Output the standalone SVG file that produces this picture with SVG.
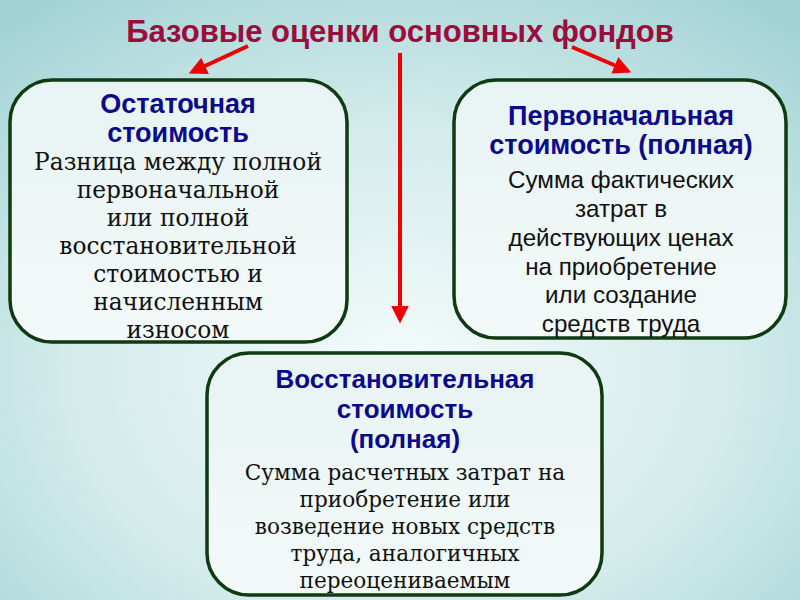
<svg xmlns="http://www.w3.org/2000/svg" width="800" height="600" viewBox="0 0 800 600">
<defs>
<radialGradient id="bg" cx="0.5" cy="0.62" r="0.75">
<stop offset="0" stop-color="#f4fbfb"/>
<stop offset="0.55" stop-color="#d3ebeb"/>
<stop offset="1" stop-color="#a4d3d6"/>
</radialGradient>
<linearGradient id="boxfill" x1="0" y1="0" x2="0" y2="1">
<stop offset="0" stop-color="#e8f3f3"/>
<stop offset="1" stop-color="#f3f9f9"/>
</linearGradient>
<marker id="ah" viewBox="0 0 10 10" refX="8" refY="5" markerWidth="4.5" markerHeight="4.5" orient="auto" markerUnits="strokeWidth">
<path d="M0,0 L10,5 L0,10 z" fill="#ee0000"/>
</marker>
</defs>
<style>
.box{fill:url(#boxfill);stroke:#0f3a12;stroke-width:3.5}
.head{font-family:"Liberation Sans",Arial,sans-serif;font-weight:bold;fill:#0a0a8a;text-anchor:middle;font-size:27px}
.head2{font-family:"Liberation Sans",Arial,sans-serif;font-weight:bold;fill:#0a0a8a;text-anchor:middle;font-size:26px}
.serif{font-family:"DejaVu Serif","Liberation Serif",serif;fill:#111;text-anchor:middle;font-size:23.3px}
.serif2{font-family:"DejaVu Serif","Liberation Serif",serif;fill:#111;text-anchor:middle;font-size:21.6px}
.sans{font-family:"Liberation Sans",Arial,sans-serif;fill:#111;text-anchor:middle;font-size:24.2px}
.title{font-family:"Liberation Sans",Arial,sans-serif;font-weight:bold;fill:#9b0d3c;text-anchor:middle;font-size:31px}
.arr{stroke:#ee0000;stroke-width:4;fill:none;marker-end:url(#ah)}
</style>
<rect width="800" height="600" fill="url(#bg)"/>
<text class="title" x="400" y="42">Базовые оценки основных фондов</text>
<g id="connectors">
<line class="arr" x1="248" y1="46" x2="192" y2="72"/>
<line class="arr" x1="572" y1="47" x2="628" y2="71"/>
<line class="arr" x1="400" y1="53" x2="400" y2="320"/>
</g>
<g id="residual">
<rect class="box" x="10" y="80" width="337" height="262" rx="42" ry="42"/>
<text class="head" x="178" y="113">Остаточная</text>
<text class="head" x="178" y="142">стоимость</text>
<text class="serif" x="178" y="170">Разница между полной</text>
<text class="serif" x="178" y="198">первоначальной</text>
<text class="serif" x="178" y="226">или полной</text>
<text class="serif" x="178" y="254">восстановительной</text>
<text class="serif" x="178" y="282">стоимостью и</text>
<text class="serif" x="178" y="310">начисленным</text>
<text class="serif" x="178" y="338">износом</text>
</g>
<g id="initial">
<rect class="box" x="454" y="80" width="332" height="258" rx="42" ry="42"/>
<text class="head" x="621" y="125">Первоначальная</text>
<text class="head" x="621" y="154">стоимость (полная)</text>
<text class="sans" x="621" y="188">Сумма фактических</text>
<text class="sans" x="621" y="217">затрат в</text>
<text class="sans" x="621" y="246">действующих ценах</text>
<text class="sans" x="621" y="275">на приобретение</text>
<text class="sans" x="621" y="303">или создание</text>
<text class="sans" x="621" y="332">средств труда</text>
</g>
<g id="replacement">
<rect class="box" x="207" y="353" width="395" height="242" rx="42" ry="42"/>
<text class="head2" x="405" y="388">Восстановительная</text>
<text class="head2" x="405" y="418">стоимость</text>
<text class="head2" x="405" y="448">(полная)</text>
<text class="serif2" x="405" y="480">Сумма расчетных затрат на</text>
<text class="serif2" x="405" y="507">приобретение или</text>
<text class="serif2" x="405" y="534">возведение новых средств</text>
<text class="serif2" x="405" y="561">труда, аналогичных</text>
<text class="serif2" x="405" y="588">переоцениваемым</text>
</g>
</svg>
